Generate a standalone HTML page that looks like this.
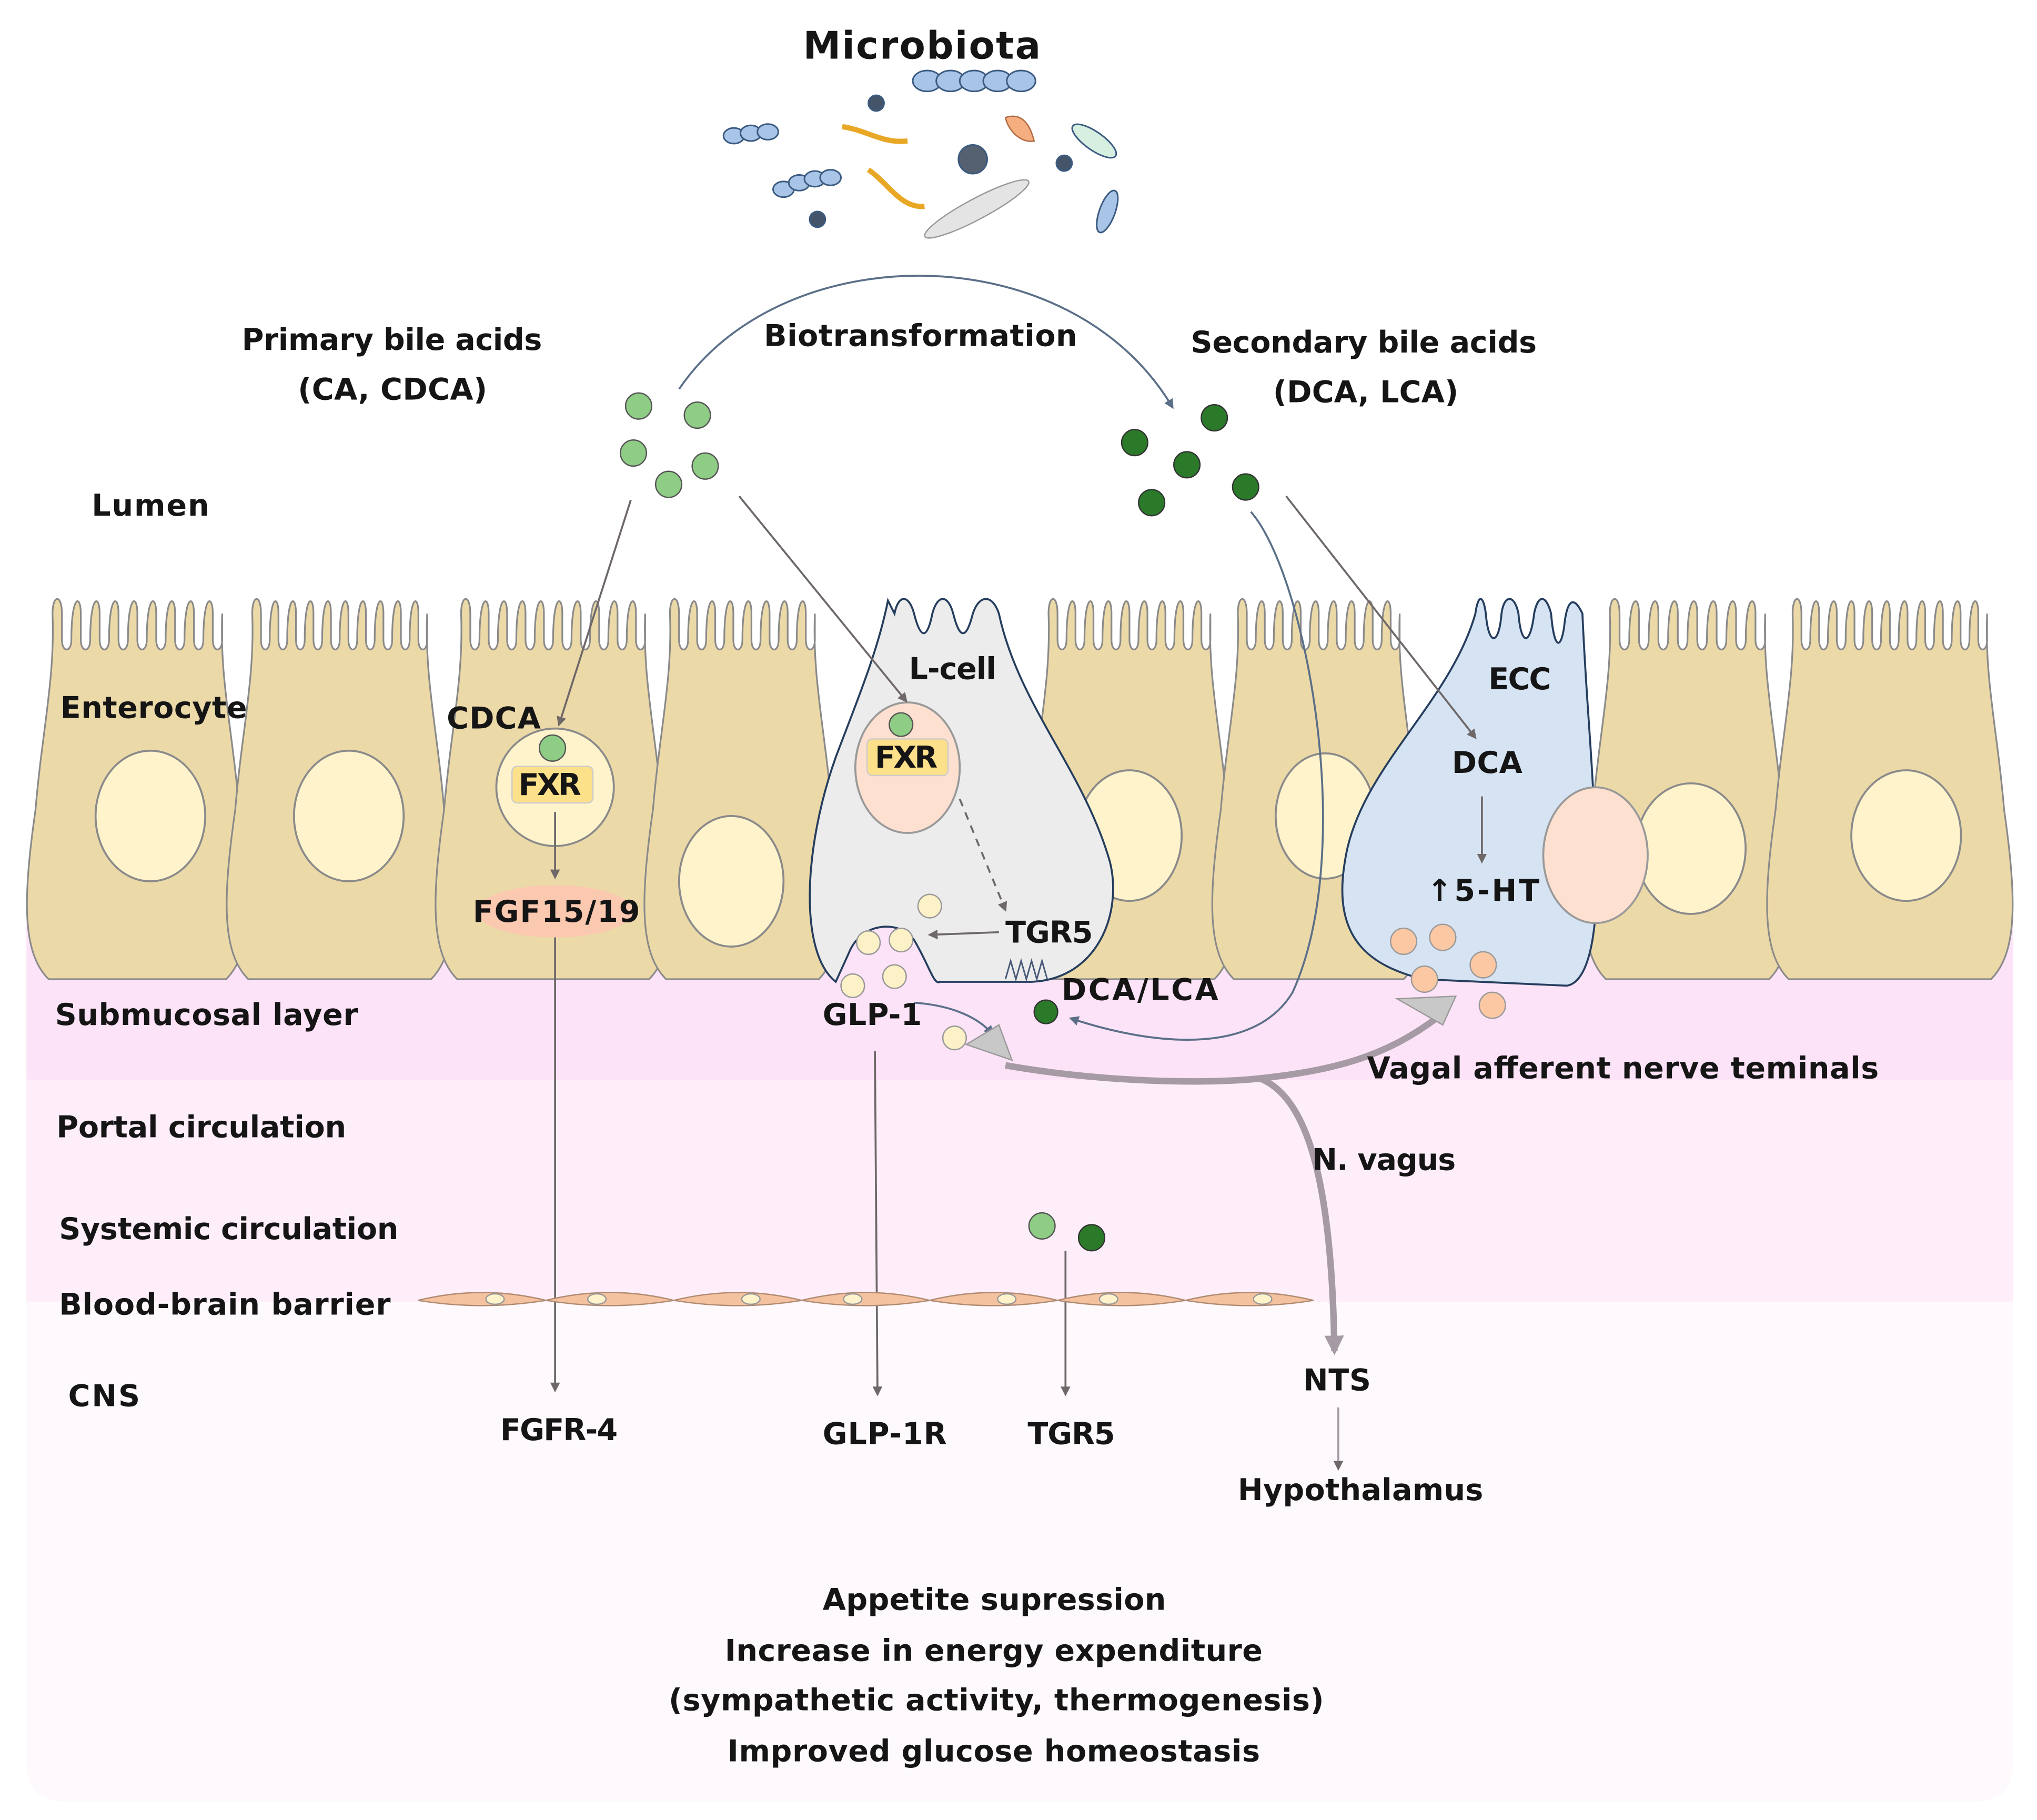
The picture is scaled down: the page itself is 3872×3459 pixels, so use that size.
<!DOCTYPE html>
<html><head><meta charset="utf-8"><style>
html,body{margin:0;padding:0;background:#fff}
svg{display:block}
text{font-family:"DejaVu Sans","Liberation Sans",sans-serif;font-size:23px;font-weight:bold;fill:#151515}
</style></head><body>
<svg id="s" width="3872" height="3459" viewBox="0 0 1560 1394" xmlns="http://www.w3.org/2000/svg">
<defs>
<marker id="ar" viewBox="0 0 10 10" refX="8" refY="5" markerWidth="5" markerHeight="5" orient="auto"><path d="M0,0 L10,5 L0,10 z" fill="#6e6868"/></marker>
<marker id="ab" viewBox="0 0 10 10" refX="8" refY="5" markerWidth="5" markerHeight="5" orient="auto"><path d="M0,0 L10,5 L0,10 z" fill="#5b6f88"/></marker>
<marker id="ag" viewBox="0 0 10 10" refX="8" refY="5" markerWidth="3" markerHeight="3" orient="auto"><path d="M0,0 L10,5 L0,10 z" fill="#a69aa4"/></marker>
</defs>
<rect x="20" y="705" width="1522" height="122" fill="#fde3f7"/>
<rect x="20" y="827" width="1522" height="170" fill="#fdeefa"/>
<path d="M20,997 H1542 V1350 Q1542,1380 1512,1380 H50 Q20,1380 20,1350 Z" fill="#fdf9fc"/>
<g id="cells"></g>
<path d="M680,460 C672,500 655,540 640,580 C615,650 612,730 640,752 L650,730 C660,705 690,705 700,720 C712,740 715,755 720,752 L790,752 C840,750 860,700 850,660 C830,590 780,540 765,470 C760,455 750,455 745,470 C740,490 735,490 730,470 C726,455 718,455 714,470 C710,490 705,490 700,470 C696,455 688,455 685,470 Z" fill="#ececec" stroke="#263e5e" stroke-width="1.5"/>
<ellipse cx="695" cy="588" rx="40" ry="50" fill="#fde0d0" stroke="#999" stroke-width="1.5"/>
<path d="M1130,470 C1110,540 1040,590 1030,660 C1020,720 1050,740 1090,750 L1200,755 C1220,752 1225,700 1222,650 C1220,580 1215,540 1212,470 C1205,455 1200,460 1198,480 C1195,500 1190,495 1188,470 C1184,455 1178,455 1175,470 C1172,495 1165,495 1163,470 C1160,455 1152,455 1150,470 C1148,495 1140,495 1138,470 C1136,455 1132,455 1130,470 Z" fill="#d6e3f3" stroke="#263e5e" stroke-width="1.5"/>
<ellipse cx="1222" cy="655" rx="40" ry="52" fill="#fde0d0" stroke="#999" stroke-width="1.5"/>
<g stroke="#3a5a80" stroke-width="1.2">
<g fill="#a8c4e6"><ellipse cx="710" cy="62" rx="11" ry="8"/><ellipse cx="728" cy="62" rx="11" ry="8"/><ellipse cx="746" cy="62" rx="11" ry="8"/><ellipse cx="764" cy="62" rx="11" ry="8"/><ellipse cx="782" cy="62" rx="11" ry="8"/>
<ellipse cx="562" cy="104" rx="8" ry="6"/><ellipse cx="575" cy="102" rx="8" ry="6"/><ellipse cx="588" cy="101" rx="8" ry="6"/>
<ellipse cx="600" cy="145" rx="8" ry="6"/><ellipse cx="612" cy="140" rx="8" ry="6"/><ellipse cx="624" cy="137" rx="8" ry="6"/><ellipse cx="636" cy="136" rx="8" ry="6"/>
<ellipse cx="848" cy="162" rx="6" ry="17" transform="rotate(20 848 162)"/></g>
<circle cx="671" cy="79" r="6" fill="#44556a"/><circle cx="745" cy="122" r="11" fill="#556070"/><circle cx="815" cy="125" r="6" fill="#44556a"/><circle cx="626" cy="168" r="6" fill="#44556a"/>
<ellipse cx="838" cy="108" rx="20" ry="7" fill="#d6efe0" transform="rotate(35 838 108)"/>
</g>
<path d="M645,97 C665,100 675,110 695,108" stroke="#e8a826" stroke-width="4" fill="none"/>
<path d="M665,130 C680,140 690,160 708,158" stroke="#e8a826" stroke-width="4" fill="none"/>
<path d="M770,90 C785,85 790,100 792,108 C782,110 772,100 770,90Z" fill="#f5ae80" stroke="#b06a40"/>
<ellipse cx="748" cy="160" rx="45" ry="8" fill="#e4e4e4" stroke="#999" transform="rotate(-28 748 160)"/>
<g fill="#8fcc85" stroke="#555" stroke-width="1">
<circle cx="489" cy="311" r="10"/><circle cx="534" cy="318" r="10"/><circle cx="485" cy="347" r="10"/><circle cx="512" cy="371" r="10"/><circle cx="540" cy="357" r="10"/>
<circle cx="423" cy="573" r="10"/><circle cx="690" cy="555" r="9"/><circle cx="798" cy="939" r="10"/></g>
<g fill="#2a7a2a" stroke="#333" stroke-width="1">
<circle cx="869" cy="339" r="10"/><circle cx="930" cy="320" r="10"/><circle cx="909" cy="356" r="10"/><circle cx="882" cy="385" r="10"/><circle cx="954" cy="373" r="10"/>
<circle cx="801" cy="775" r="9"/><circle cx="836" cy="948" r="10"/></g>
<g fill="#fdf1c8" stroke="#999"><circle cx="712" cy="694" r="9"/><circle cx="665" cy="722" r="9"/><circle cx="690" cy="720" r="9"/><circle cx="653" cy="755" r="9"/><circle cx="685" cy="748" r="9"/><circle cx="731" cy="795" r="9"/></g>
<g fill="#fcc8a4" stroke="#999"><circle cx="1075" cy="721" r="10"/><circle cx="1105" cy="718" r="10"/><circle cx="1136" cy="739" r="10"/><circle cx="1091" cy="750" r="10"/><circle cx="1143" cy="770" r="10"/></g>
<rect x="392" y="587" width="62" height="28" rx="4" fill="#fde08a" stroke="#ccc"/>
<rect x="664" y="566" width="62" height="28" rx="4" fill="#fde08a" stroke="#ccc"/>
<ellipse cx="425" cy="698" rx="60" ry="20" fill="#fbc8b0"/>
<path d="M520,298 C600,180 820,180 898,312" stroke="#5b6f88" stroke-width="1.5" fill="none" marker-end="url(#ab)"/>
<g stroke="#6e6868" stroke-width="1.5" fill="none">
<path d="M483,383 L428,555" marker-end="url(#ar)"/>
<path d="M566,380 L694,537" marker-end="url(#ar)"/>
<path d="M985,380 L1130,565" marker-end="url(#ar)"/>
<path d="M425,622 L425,672" marker-end="url(#ar)"/>
<path d="M735,612 L770,697" stroke-dasharray="6,5" marker-end="url(#ar)"/>
<path d="M765,714 L712,716" marker-end="url(#ar)"/>
<path d="M1135,610 L1135,660" marker-end="url(#ar)"/>
<path d="M425,718 L425,1065" marker-end="url(#ar)"/>
<path d="M670,805 L672,1068" marker-end="url(#ar)"/>
<path d="M816,958 L816,1068" marker-end="url(#ar)"/>
<path d="M1025,1078 L1025,1125" stroke="#a69aa4" marker-end="url(#ar)"/>
</g>
<path d="M958,392 C1000,440 1040,650 990,760 C960,810 880,800 820,780" stroke="#5b6f88" stroke-width="1.5" fill="none" marker-end="url(#ab)"/>
<path d="M700,768 C730,770 750,780 760,792" stroke="#5b6f88" stroke-width="1.5" fill="none" marker-end="url(#ab)"/>
<path d="M770,816 C850,830 930,830 965,826 C1020,820 1060,810 1100,780" stroke="#a69aa4" stroke-width="5" fill="none"/>
<path d="M965,826 C1000,840 1020,900 1022,1035" stroke="#a69aa4" stroke-width="5" fill="none" marker-end="url(#ag)"/>
<path d="M740,800 L765,785 L775,812 Z" fill="#c8c8c8" stroke="#999"/>
<path d="M1070,765 L1115,763 L1105,785 Z" fill="#c8c8c8" stroke="#999"/>
<g stroke="#4a5a78" stroke-width="1.2" fill="none"><path d="M770,750 l4,-14 l4,14 l4,-14 l4,14 l4,-14 l4,14 l4,-14 l4,14"/></g>
<g id="bbb"></g>
<text x="615" y="45" style="font-size:29px" textLength="182">Microbiota</text>
<text x="185" y="268" textLength="230">Primary bile acids</text>
<text x="228" y="306" textLength="145">(CA, CDCA)</text>
<text x="585" y="265" textLength="240">Biotransformation</text>
<text x="912" y="270" textLength="265">Secondary bile acids</text>
<text x="975" y="308" textLength="142">(DCA, LCA)</text>
<text x="70" y="395" textLength="90">Lumen</text>
<text x="46" y="550" textLength="143">Enterocyte</text>
<text x="342" y="558" textLength="72">CDCA</text>
<text x="397" y="609" textLength="48">FXR</text>
<text x="670" y="588" textLength="48">FXR</text>
<text x="696" y="520" textLength="67">L-cell</text>
<text x="1140" y="528" textLength="48">ECC</text>
<text x="1112" y="592" textLength="54">DCA</text>
<text x="1093" y="690" textLength="86">↑5-HT</text>
<text x="362" y="706" textLength="128">FGF15/19</text>
<text x="770" y="722" textLength="67">TGR5</text>
<text x="813" y="766" textLength="120">DCA/LCA</text>
<text x="630" y="785" textLength="76">GLP-1</text>
<text x="42" y="785" textLength="232">Submucosal layer</text>
<text x="1047" y="826" textLength="392">Vagal afferent nerve teminals</text>
<text x="43" y="871" textLength="222">Portal circulation</text>
<text x="1005" y="896" textLength="110">N. vagus</text>
<text x="45" y="949" textLength="260">Systemic circulation</text>
<text x="45" y="1007" textLength="254">Blood-brain barrier</text>
<text x="52" y="1077" textLength="55">CNS</text>
<text x="998" y="1065" textLength="52">NTS</text>
<text x="383" y="1103" textLength="90">FGFR-4</text>
<text x="630" y="1106" textLength="95">GLP-1R</text>
<text x="787" y="1106" textLength="67">TGR5</text>
<text x="948" y="1149" textLength="188">Hypothalamus</text>
<text x="630" y="1233" textLength="263">Appetite supression</text>
<text x="555" y="1272" textLength="412">Increase in energy expenditure</text>
<text x="512" y="1310" textLength="502">(sympathetic activity, thermogenesis)</text>
<text x="557" y="1349" textLength="408">Improved glucose  homeostasis</text>
</svg>
<script>
var ns="http://www.w3.org/2000/svg";
var g=document.getElementById("cells");
function el(t,a,p){var e=document.createElementNS(ns,t);for(var k in a)e.setAttribute(k,a[k]);(p||g).appendChild(e);return e;}
var cells=[[22,188,115,625,42,50],[175,345,267,625,42,50],[335,512,425,603,45,45],[495,642,560,675,40,50],[785,945,865,640,40,50],[930,1090,1015,625,38,48],[1215,1370,1295,650,42,50],[1355,1540,1460,640,42,50]];
cells.forEach(function(c){
 var x0=c[0],x1=c[1],b=750;
 var d="M"+(x0+15)+","+b+" C"+(x0-5)+","+(b-20)+" "+(x0-5)+",690 "+(x0+5)+",620 C"+(x0+10)+",560 "+(x0+20)+",520 "+(x0+18)+",470 ";
 var n=Math.floor((x1-x0-30)/14);var w=(x1-x0-36)/n;
 for(var i=0;i<n;i++){var a=x0+18+i*w;d+="C"+(a)+",455 "+(a+w*0.5)+",455 "+(a+w*0.5)+",470 L"+(a+w*0.5)+",490 C"+(a+w*0.5)+",500 "+(a+w)+",500 "+(a+w)+",490 ";}
 d+="L"+(x1-18)+",470 C"+(x1-20)+",520 "+(x1-10)+",560 "+(x1-5)+",620 C"+(x1+5)+",690 "+(x1+5)+","+(b-20)+" "+(x1-15)+","+b+" Z";
 el("path",{d:d,fill:"#ecd9a8",stroke:"#8a8a8a","stroke-width":"1.3"});
 el("ellipse",{cx:c[2],cy:c[3],rx:c[4],ry:c[5],fill:"#fff3cc",stroke:"#8a8a8a","stroke-width":"1.5"});
});
var bb=document.getElementById("bbb");
for(var i=0;i<7;i++){var x=320+i*98;
 el("path",{d:"M"+x+",996 Q"+(x+49)+",984 "+(x+98)+",996 Q"+(x+49)+",1004 "+x+",996Z",fill:"#f5c2a0",stroke:"#b08a70","stroke-width":"1"},bb);
 el("ellipse",{cx:x+49+(i%2?-10:10),cy:995,rx:7,ry:4,fill:"#fff3cc",stroke:"#999"},bb);}
</script>
</body></html>
